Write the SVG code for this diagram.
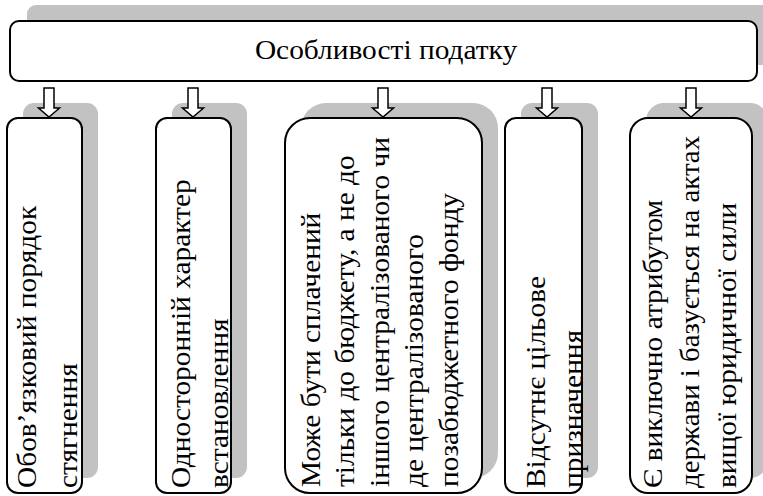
<svg xmlns="http://www.w3.org/2000/svg" width="763" height="496" viewBox="0 0 763 496">
<style>
.box{fill:#fff;stroke:#000;stroke-width:2}
.sh{fill:#c2c2c2;stroke:none}
.arr{fill:#fff;stroke:#000;stroke-width:1.5;stroke-linejoin:miter}
.t{font-family:"Liberation Serif","Times New Roman",serif;font-size:28px;fill:#000}
</style>
<rect width="763" height="496" fill="#fff"/>
<g id="title">
<rect class="sh" x="27" y="5" width="750" height="60" rx="9"/>
<rect class="box" x="10" y="21" width="747" height="60" rx="9"/>
<text class="t" transform="translate(386,59) scale(1.05,1)" text-anchor="middle">Особливості податку</text>
</g>
<g id="n1">
<rect class="sh" x="23" y="103" width="75" height="375" rx="11"/>
<rect class="box" x="7" y="118" width="75" height="375" rx="11"/>
<text class="t" transform="translate(36,488) rotate(-90) scale(1.05,1)">Обов’язковий порядок</text>
<text class="t" transform="translate(77,488) rotate(-90) scale(1.05,1)">стягнення</text>
</g>
<g id="n2">
<rect class="sh" x="172" y="103" width="75" height="375" rx="11"/>
<rect class="box" x="156" y="118" width="75" height="375" rx="11"/>
<text class="t" transform="translate(190,488) rotate(-90) scale(1.05,1)">Односторонній характер</text>
<text class="t" transform="translate(228,488) rotate(-90) scale(1.05,1)">встановлення</text>
</g>
<g id="n3">
<rect class="sh" x="301" y="103" width="197" height="375" rx="25"/>
<rect class="box" x="285" y="118" width="197" height="375" rx="25"/>
<text class="t" transform="translate(320,487) rotate(-90) scale(1.05,1)">Може бути сплачений</text>
<text class="t" transform="translate(354,487) rotate(-90) scale(1.05,1)">тільки до бюджету, а не до</text>
<text class="t" transform="translate(389,487) rotate(-90) scale(1.05,1)">іншого централізованого чи</text>
<text class="t" transform="translate(423,487) rotate(-90) scale(1.05,1)">де централізованого</text>
<text class="t" transform="translate(458,487) rotate(-90) scale(1.05,1)">позабюджетного фонду</text>
</g>
<g id="n4">
<rect class="sh" x="521" y="103" width="77" height="375" rx="11"/>
<rect class="box" x="505" y="118" width="77" height="375" rx="11"/>
<text class="t" transform="translate(545,488) rotate(-90) scale(1.05,1)">Відсутнє цільове</text>
<text class="t" transform="translate(582,488) rotate(-90) scale(1.05,1)">призначення</text>
</g>
<g id="n5">
<rect class="sh" x="646" y="103" width="122" height="375" rx="18"/>
<rect class="box" x="630" y="118" width="122" height="375" rx="18"/>
<text class="t" transform="translate(662,488) rotate(-90) scale(1.05,1)">Є виключно атрибутом</text>
<text class="t" transform="translate(699,488) rotate(-90) scale(1.03,1)">держави і базується на актах</text>
<text class="t" transform="translate(736,488) rotate(-90) scale(1.05,1)">вищої юридичної сили</text>
</g>
<g id="connectors">
<path class="arr" d="M44,88H54V108H59.5L49,117L38.5,108H44Z"/>
<path class="arr" d="M188,88H198V108H203.5L193,117L182.5,108H188Z"/>
<path class="arr" d="M378,88H388V108H393.5L383,117L372.5,108H378Z"/>
<path class="arr" d="M542,88H552V108H557.5L547,117L536.5,108H542Z"/>
<path class="arr" d="M686,88H696V108H701.5L691,117L680.5,108H686Z"/>
</g>
</svg>
